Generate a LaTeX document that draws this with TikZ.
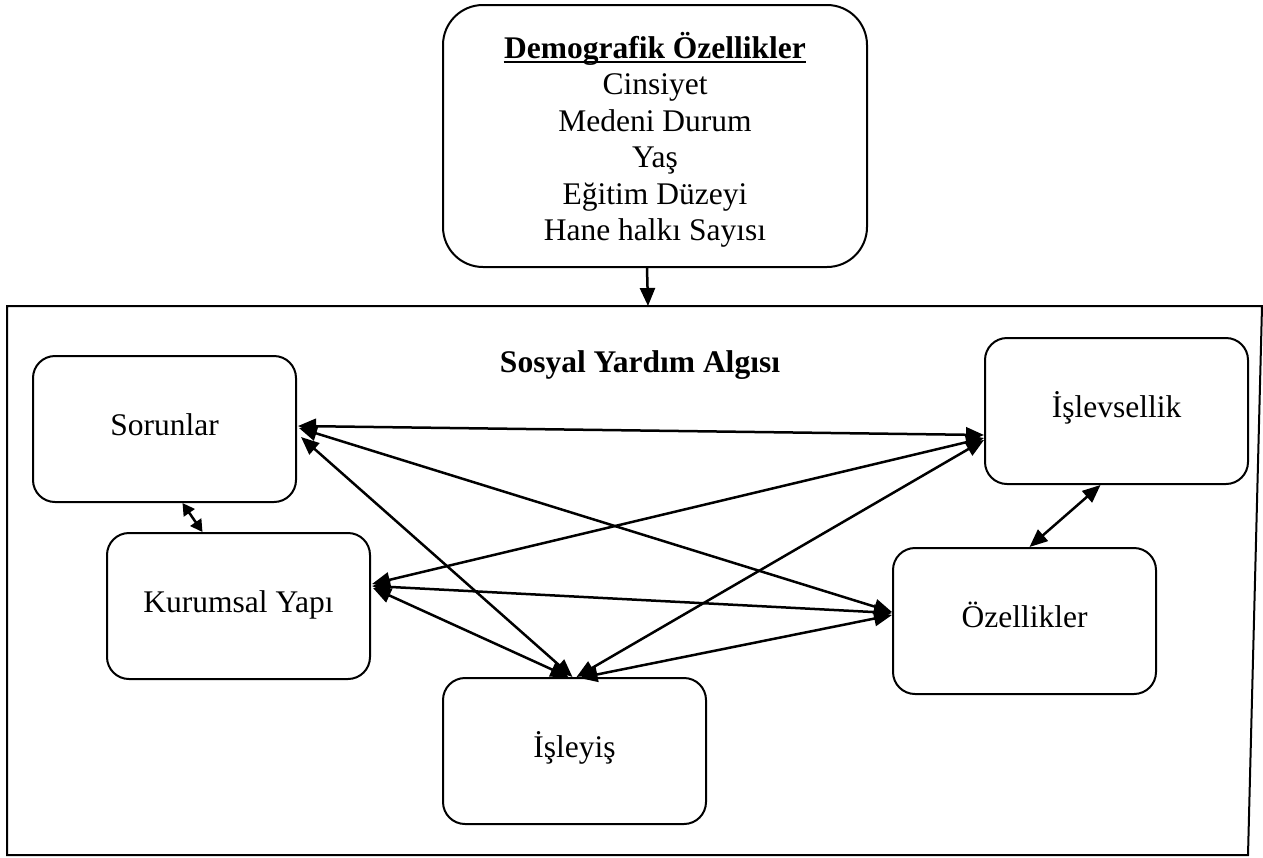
\documentclass[tikz,border=0pt]{standalone}
\usepackage{fontspec}
\setmainfont{Liberation Serif}
\usetikzlibrary{arrows.meta}

\begin{document}
\begin{tikzpicture}[x=0.5pt, y=-0.5pt,
    every node/.style={font=\fontsize{15.75}{18.25}\selectfont, inner sep=0pt},
    kutu/.style={draw, line width=1pt, rounded corners=11pt, minimum width=131.5pt,
      minimum height=73pt, text height=0.68em, text depth=0pt},
    ok/.style={{Triangle[length=9pt,width=7.5pt]}-{Triangle[length=9pt,width=7.5pt]}, line width=1.25pt},
    kisaok/.style={{Triangle[length=6pt,width=6.5pt]}-{Triangle[length=6pt,width=6.5pt]}, line width=1.25pt}]
  \useasboundingbox (0,0) rectangle (1263,857);

  % demographic box on top
  \node[draw, line width=1pt, rounded corners=20pt, minimum width=212pt, minimum height=131pt]
    (demog) at (655,136) {};
  \node[anchor=base, font=\fontsize{15.75}{18.25}\selectfont\bfseries] (baslik) at (655,58) {Demografik Özellikler};
  \draw[line width=0.8pt] ([shift={(0,4)}]baslik.base west) -- ([shift={(0,4)}]baslik.base east);
  \foreach \y/\t in {94.5/Cinsiyet, 131/Medeni Durum, 167.5/Yaş, 204/Eğitim Düzeyi, 240.5/Hane halkı Sayısı}
    \node[anchor=base] at (655,\y) {\t};

  % outer frame
  \draw[line width=1pt] (7,306) -- (1262,306) -- (1248,855) -- (7,855) -- cycle;
  \coordinate (cerceve) at (648,306);
  \draw[-{Triangle[length=9pt,width=7.5pt]}, line width=1.25pt] ([shift={(-8,0)}]demog.south) -- (cerceve);

  \node[anchor=base, font=\fontsize{15.75}{18.25}\selectfont\bfseries] at (640,372) {Sosyal Yardım Algısı};

  \node[kutu] (sor) at (164.5,429) {Sorunlar};
  \node[kutu] (kur) at (238.5,606) {Kurumsal Yapı};
  \node[kutu] (isy) at (574.5,751) {İşleyiş};
  \node[kutu] (isl) at (1116.5,411) {İşlevsellik};
  \node[kutu] (oz) at (1024.5,621) {Özellikler};

  \draw[ok] ([shift={(1,-3)}]sor.east) -- ([shift={(0,24)}]isl.west);
  \draw[ok] ([shift={(2,-1)}]sor.east) -- ([shift={(0,-9)}]oz.west);
  \draw[ok] ([shift={(4,8)}]sor.east) -- ([shift={(-2,0)}]isy.north);
  \draw[ok] ([shift={(1,-22)}]kur.east) -- ([shift={(0,27)}]isl.west);
  \draw[ok] ([shift={(1,-20)}]kur.east) -- ([shift={(0,-8)}]oz.west);
  \draw[ok] ([shift={(2,-18)}]kur.east) -- ([shift={(-6,0)}]isy.north);
  \draw[ok] ([shift={(2,0)}]isy.north) -- ([shift={(0,29)}]isl.west);
  \draw[ok] ([shift={(5,1)}]isy.north) -- ([shift={(0,-6)}]oz.west);
  \draw[ok] ([shift={(5,0)}]oz.north) -- ([shift={(-16,0)}]isl.south);
  \draw[kisaok] ([shift={(18,0)}]sor.south) -- ([shift={(-36,0)}]kur.north);
\end{tikzpicture}
\end{document}
